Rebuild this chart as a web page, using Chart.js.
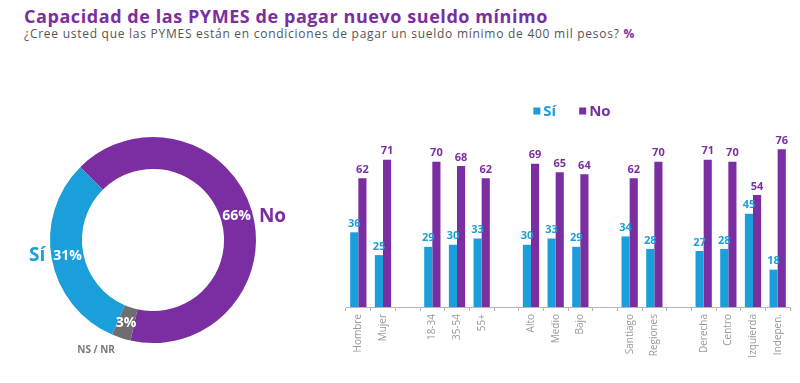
<!DOCTYPE html>
<html>
<head>
<meta charset="utf-8">
<script src="https://cdn.jsdelivr.net/npm/chart.js@4.4.1/dist/chart.umd.min.js"></script>
<style>
  html, body { margin: 0; padding: 0; background: #ffffff; width: 800px; height: 383px; overflow: hidden; position: relative; }
  #title { position: absolute; left: 24px; top: 7px; font-family: "Open Sans", sans-serif; font-weight: 700; font-size: 18px; line-height: 18px; color: #7a2ea1; white-space: nowrap; }
  #subtitle { position: absolute; left: 24px; top: 28px; font-family: "Open Sans", sans-serif; font-weight: 400; font-size: 12px; line-height: 12px; color: #555555; white-space: nowrap; }
  #subtitle b { color: #7a2ea1; font-weight: 700; }
  #donutWrap { position: absolute; left: 3px; top: 90px; width: 300px; height: 300px; }
  #barWrap { position: absolute; left: 330px; top: 90px; width: 470px; height: 293px; }
</style>
</head>
<body>
<div id="title">Capacidad de las PYMES de pagar nuevo sueldo mínimo</div>
<div id="subtitle">¿Cree usted que las PYMES están en condiciones de pagar un sueldo mínimo de 400 mil pesos? <b>%</b></div>
<div id="donutWrap"><canvas id="donut" width="300" height="300"></canvas></div>
<div id="barWrap"><canvas id="bars" width="470" height="293"></canvas></div>
<script>
// ---- Data ----
const donutLabels = ['No', 'NS / NR', 'Sí'];
const donutValues = [66, 3, 31];

const categories = ['Hombre', 'Mujer', '', '18-34', '35-54', '55+', '', 'Alto', 'Medio', 'Bajo', '', 'Santiago', 'Regiones', '', 'Derecha', 'Centro', 'Izquierda', 'Indepen.'];
const siValues = [36, 25, null, 29, 30, 33, null, 30, 33, 29, null, 34, 28, null, 27, 28, 45, 18];
const noValues = [62, 71, null, 70, 68, 62, null, 69, 65, 64, null, 62, 70, null, 71, 70, 54, 76];
const seriesNames = ['Sí', 'No'];

// ---- Styles ----
const BLUE = '#1a9fdb';
const PURPLE = '#7a2ea1';
const GRAY = '#6e6e6e';
const FONT = '"Open Sans", sans-serif';

// fit title widths
function fitWidth(id, target) {
  const el = document.getElementById(id);
  const w = el.getBoundingClientRect().width;
  const n = el.textContent.length;
  el.style.letterSpacing = ((target - w) / n) + 'px';
}
fitWidth('title', 524);
fitWidth('subtitle', 611);

// ---- Doughnut ----
const donutLabelPlugin = {
  id: 'donutLabels',
  afterDatasetsDraw(chart) {
    const ctx = chart.ctx;
    const meta = chart.getDatasetMeta(0);
    meta.data.forEach((arc, i) => {
      const mid = (arc.startAngle + arc.endAngle) / 2;
      const r = (arc.innerRadius + arc.outerRadius) / 2;
      const px = arc.x + Math.cos(mid) * r;
      const py = arc.y + Math.sin(mid) * r;
      const txt = chart.data.datasets[0].data[i] + '%';
      ctx.save();
      ctx.font = '700 14px ' + FONT;
      ctx.fillStyle = '#ffffff';
      ctx.textAlign = 'center';
      ctx.textBaseline = 'middle';
      ctx.fillText(txt, px, py);
      const tw = ctx.measureText(txt).width;
      const name = chart.data.labels[i];
      if (name === 'No') {
        ctx.font = '700 19px ' + FONT;
        ctx.fillStyle = PURPLE;
        ctx.textAlign = 'left';
        ctx.fillText(name, px + tw / 2 + 8, py + 1);
      } else if (name === 'Sí') {
        ctx.font = '700 19px ' + FONT;
        ctx.fillStyle = BLUE;
        ctx.textAlign = 'right';
        ctx.fillText(name, px - tw / 2 - 8, py - 1);
      } else {
        ctx.font = '700 10px ' + FONT;
        ctx.fillStyle = '#7a7a7a';
        ctx.textAlign = 'center';
        ctx.fillText(name, px - 30, py + 27);
      }
      ctx.restore();
    });
  }
};

new Chart(document.getElementById('donut'), {
  type: 'doughnut',
  data: {
    labels: donutLabels,
    datasets: [{
      data: donutValues,
      backgroundColor: [PURPLE, GRAY, BLUE],
      borderWidth: 0
    }]
  },
  options: {
    responsive: false,
    animation: false,
    radius: 103,
    cutout: '69%',
    rotation: 315,
    layout: { padding: 0 },
    plugins: { legend: { display: false }, tooltip: { enabled: false } }
  },
  plugins: [donutLabelPlugin]
});

// ---- Bars ----
const barLabelPlugin = {
  id: 'barLabels',
  afterDatasetsDraw(chart) {
    const ctx = chart.ctx;
    chart.data.datasets.forEach((ds, di) => {
      const meta = chart.getDatasetMeta(di);
      meta.data.forEach((bar, i) => {
        const v = ds.data[i];
        if (v === null || v === undefined) return;
        ctx.save();
        ctx.font = '700 11px ' + FONT;
        ctx.fillStyle = ds.backgroundColor;
        ctx.textAlign = 'center';
        ctx.textBaseline = 'bottom';
        ctx.fillText(String(v), bar.x, bar.y - 3);
        ctx.restore();
      });
    });
  }
};

const customLegendPlugin = {
  id: 'customLegend',
  afterDraw(chart) {
    const ctx = chart.ctx;
    ctx.save();
    ctx.font = '700 15px ' + FONT;
    const box = 7, gap = 3, spacing = 23;
    const items = chart.data.datasets.map(ds => ({ text: ds.label, color: ds.backgroundColor, w: ctx.measureText(ds.label).width }));
    let total = 0;
    items.forEach((it, k) => { total += box + gap + it.w + (k < items.length - 1 ? spacing : 0); });
    let x = 242 - total / 2;
    const y = 21;
    items.forEach(it => {
      ctx.fillStyle = it.color;
      ctx.fillRect(x, y - box / 2, box, box);
      x += box + gap;
      ctx.textAlign = 'left';
      ctx.textBaseline = 'middle';
      ctx.fillText(it.text, x, y + 1);
      x += it.w + spacing;
    });
    ctx.restore();
  }
};

new Chart(document.getElementById('bars'), {
  type: 'bar',
  data: {
    labels: categories,
    datasets: [
      { label: seriesNames[0], data: siValues, backgroundColor: BLUE, categoryPercentage: 0.66, barPercentage: 1.0 },
      { label: seriesNames[1], data: noValues, backgroundColor: PURPLE, categoryPercentage: 0.66, barPercentage: 1.0 }
    ]
  },
  options: {
    responsive: false,
    animation: false,
    layout: { padding: { left: 16, right: 10, top: 51, bottom: 0 } },
    plugins: { legend: { display: false }, tooltip: { enabled: false } },
    scales: {
      x: {
        afterFit(scale) { scale.height = 76; },
        grid: { display: true, drawOnChartArea: false, drawTicks: true, tickLength: 4, color: '#b5b5b5', offset: true },
        border: { display: true, color: '#b5b5b5' },
        ticks: { autoSkip: false, maxRotation: 90, minRotation: 90, padding: 3, color: '#9a9a9a', font: { family: FONT, size: 10 } }
      },
      y: { display: false, min: 0, max: 80 }
    }
  },
  plugins: [barLabelPlugin, customLegendPlugin]
});
</script>
</body>
</html>
